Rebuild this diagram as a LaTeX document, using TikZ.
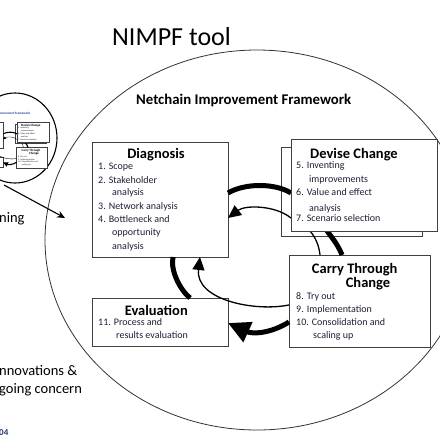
\documentclass[tikz,border=0pt]{standalone}
\usepackage{fontspec}
\setmainfont{Carlito}
\usetikzlibrary{arrows.meta,calc}
\definecolor{itemc}{RGB}{30,30,55}
\definecolor{thumbblue}{RGB}{40,60,150}
\definecolor{navy}{RGB}{31,56,100}
\tikzset{
  frbox/.style={draw=black!75, fill=white, line width=\bw, inner sep=0pt, outer sep=0pt},
  ttl/.style={anchor=base, inner sep=0pt, font=\bfseries\fontsize{14.5pt}{17pt}\selectfont},
  itm/.style={anchor=base west, inner sep=0pt, font=\fontsize{10pt}{12pt}\selectfont, text=itemc},
  thickarc/.style={line width=\thk, black},
  thinarc/.style={line width=\thn, black},
  thickhead/.style={-{Triangle[length=\tkL,width=\tkW]}},
  thinhead/.style={-{Triangle[length=\tnL,width=\tnW]}}
}
\def\bw{0.9pt}\def\thk{5pt}\def\thn{1.3pt}
\def\tkL{22pt}\def\tkW{21pt}\def\tnL{13pt}\def\tnW{12pt}
\newcommand\nimframe[2]{%
  \node[frbox, minimum width=136pt, minimum height=115pt] (#1diag) at (160,199.5) {};
  \node[frbox, minimum width=136pt, minimum height=48pt] (#1eval) at (160,322) {};
  \node[frbox, minimum width=141pt, minimum height=92pt] (#1carry) at (359.5,301) {};
  \node[frbox, minimum width=141pt, minimum height=89pt] (#1devb) at (351.5,191.5) {};
  \node[frbox, draw=none, fill=none, minimum width=146pt, minimum height=92pt] (#1devf) at (364,185) {};
  % thick loop
  \draw[thickarc] ($(#1diag.north east)!0.443!(#1diag.south east)$) .. controls (245,183) and (275,183) .. ($(#1devf.north west)!0.587!(#1devf.south west)$);
  \draw[thickarc] ($(#1devf.south west)!0.247!(#1devf.south east)$) .. controls (334,240) and (339,247) .. ($(#1carry.north west)!0.376!(#1carry.north east)$);
  \draw[thickarc, thickhead] ($(#1carry.north west)!0.728!(#1carry.south west)$) .. controls (270,334) and (252,334) .. ($(#1eval.north east)!0.521!(#1eval.south east)$);
  \draw[thickarc] ($(#1eval.north west)!0.721!(#1eval.north east)$) .. controls (180,290) and (170,270) .. ($(#1diag.south west)!0.596!(#1diag.south east)$);
  % thin loop
  \draw[thinarc, thinhead] ($(#1devf.north west)!0.859!(#1devf.south west)$) .. controls (275,205) and (245,205) .. ($(#1diag.north east)!0.661!(#1diag.south east)$);
  \draw[thinarc] ($(#1devf.south west)!0.130!(#1devf.south east)$) .. controls (316,238) and (319,246) .. ($(#1carry.north west)!0.220!(#1carry.north east)$);
  \draw[thinarc, thinhead] ($(#1carry.north west)!0.543!(#1carry.south west)$) .. controls (255,312) and (195,300) .. ($(#1diag.south west)!0.794!(#1diag.south east)$);
  \path[frbox] (#1devf.north west) rectangle (#1devf.south east);
  % texts
  \node[anchor=base west, inner sep=0pt, font=\bfseries\fontsize{14.8pt}{17pt}\selectfont, text=#2] (#1fw) at (136,104) {Netchain Improvement Framework};
  \node[ttl] (#1dt) at (156,158.3) {Diagnosis};
  \node[itm] (#1d1) at (98,169) {1. Scope};
  \node[itm] (#1d2) at (98,183) {2. Stakeholder};
  \node[itm] (#1d3) at (112,195.7) {analysis};
  \node[itm] (#1d4) at (98,209) {3. Network analysis};
  \node[itm] (#1d5) at (98,222.7) {4. Bottleneck and};
  \node[itm] (#1d6) at (112,235.5) {opportunity};
  \node[itm] (#1d7) at (112,249) {analysis};
  \node[ttl] (#1vt) at (354,158.3) {Devise Change};
  \node[itm] (#1v1) at (296,168.3) {5. Inventing};
  \node[itm] (#1v2) at (309,182.3) {improvements};
  \node[itm] (#1v3) at (296,195.7) {6. Value and effect};
  \node[itm] (#1v4) at (309,211.7) {analysis};
  \node[itm] (#1v5) at (296,221) {7. Scenario selection};
  \node[ttl] (#1ct) at (354.7,273.3) {Carry Through};
  \node[ttl] (#1ct2) at (368,287.7) {Change};
  \node[itm] (#1c1) at (296,299.3) {8. Try out};
  \node[itm] (#1c2) at (296,312.7) {9. Implementation};
  \node[itm] (#1c3) at (296,325) {10. Consolidation and};
  \node[itm] (#1c4) at (313,338.3) {scaling up};
  \node[ttl] (#1et) at (156.3,315) {Evaluation};
  \node[itm] (#1e1) at (98,325.7) {11. Process and};
  \node[itm] (#1e2) at (116,338.3) {results evaluation};
}
\begin{document}
\begin{tikzpicture}[x=1pt,y=-1pt]
\useasboundingbox (0,0) rectangle (440,440);
\clip (0,0) rectangle (440,440);
\fill[white] (0,0) rectangle (440,440);
% big ellipse
\draw[draw=black!80, line width=0.8pt] (257,240) ellipse [x radius=212pt, y radius=190pt];
% thumbnail
\draw[line width=1.1pt] (15,138) ellipse [x radius=42pt, y radius=45pt];
\begin{scope}[shift={(-47,91.4)}, scale=0.22, transform shape]
  \def\bw{0.3pt}\def\thk{1.1pt}\def\thn{0.35pt}
  \def\tkL{4.8pt}\def\tkW{4.6pt}\def\tnL{2.9pt}\def\tnW{2.6pt}
  \nimframe{t}{thumbblue}
\end{scope}
% main framework
\nimframe{m}{black}
% title
\node[anchor=base west, inner sep=0pt, font=\fontsize{26pt}{30pt}\selectfont] (title) at (112,45) {NIMPF tool};
% left texts
\node[anchor=base west, inner sep=0pt, font=\fontsize{14.5pt}{17pt}\selectfont] (lrn) at (-1,222) {ning};
\node[anchor=base west, inner sep=0pt, font=\fontsize{14.5pt}{17pt}\selectfont] (inn) at (-1,375) {nnovations \&};
\node[anchor=base west, inner sep=0pt, font=\fontsize{14.5pt}{17pt}\selectfont] (ong) at (-1,393) {going concern};
\node[anchor=base west, inner sep=0pt, font=\bfseries\fontsize{9pt}{10pt}\selectfont, text=navy] (num) at (-1,435) {04};
% pointer arrow
\coordinate (pa) at (4,185);
\coordinate (pb) at (65,218);
\draw[line width=1.1pt, -{Stealth[length=8pt,width=7pt]}] (pa) -- (pb);
\end{tikzpicture}
\end{document}
